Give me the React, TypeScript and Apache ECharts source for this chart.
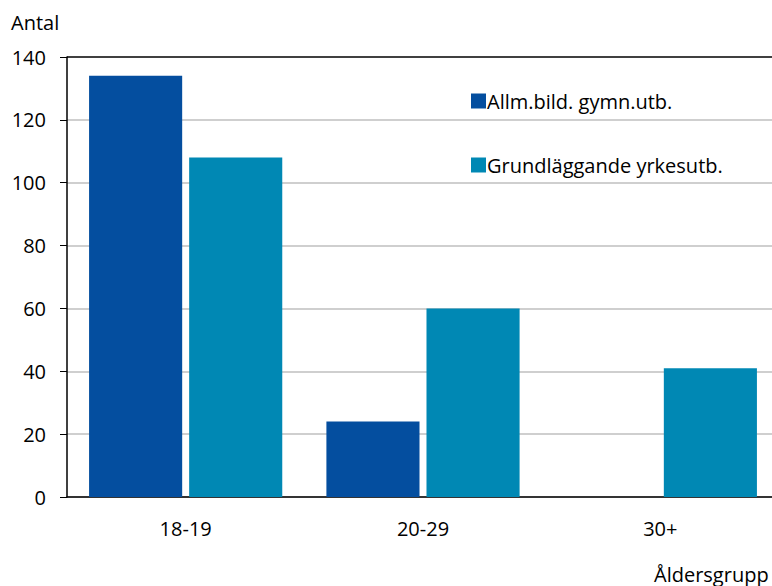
import React, { useEffect, useRef } from "react";
import * as echarts from "echarts";

const categories = ["18-19", "20-29", "30+"];
const seriesNames = ["Allm.bild. gymn.utb.", "Grundläggande yrkesutb."];
const allmValues: (number | null)[] = [134, 24, null];
const grundValues: (number | null)[] = [108, 60, 41];
const yTicks = { min: 0, max: 140, interval: 20 };
const colors = ["#044E9F", "#0088B4"];
const FONT = "Open Sans";
const FS = 20;

export default function App() {
  const ref = useRef<HTMLDivElement>(null);
  useEffect(() => {
    if (!ref.current) return;
    const chart = echarts.init(ref.current, undefined, { renderer: "svg" });
    chart.setOption({
      animation: false,
      color: colors,
      textStyle: { fontFamily: FONT, color: "#000" },
      grid: { left: 67, top: 57, bottom: 89, right: 11, containLabel: false },
      legend: {
        orient: "vertical",
        left: 466,
        top: 86,
        itemWidth: 15,
        itemHeight: 15,
        itemGap: 44,
        icon: "rect",
        textStyle: { fontFamily: FONT, fontSize: FS, color: "#000", padding: [0, 0, 0, -4] },
        data: seriesNames,
      },
      graphic: [
        { type: "text", left: 11, top: 12, style: { text: "Antal", fontFamily: FONT, fontSize: FS, fill: "#000" } },
        { type: "text", left: 654, top: 564, style: { text: "Åldersgrupp", fontFamily: FONT, fontSize: FS, fill: "#000" } },
      ],
      xAxis: {
        type: "category",
        data: categories,
        axisLine: { lineStyle: { color: "#000", width: 1.5 } },
        axisTick: { show: false },
        axisLabel: { fontFamily: FONT, fontSize: FS, color: "#000", margin: 21 },
      },
      yAxis: {
        type: "value",
        min: yTicks.min,
        max: yTicks.max,
        interval: yTicks.interval,
        axisLine: { show: true, lineStyle: { color: "#000", width: 1.5 } },
        axisTick: { show: true, length: 7, lineStyle: { color: "#000" } },
        axisLabel: { fontFamily: FONT, fontSize: FS, color: "#000", margin: 21 },
        splitLine: {
          lineStyle: {
            color: ["#bfbfbf", "#bfbfbf", "#bfbfbf", "#bfbfbf", "#bfbfbf", "#bfbfbf", "#bfbfbf", "#000"],
            width: 1.5,
          },
        },
      },
      series: [
        { name: seriesNames[0], type: "bar", data: allmValues, barGap: "7.5%", barCategoryGap: "18.6%" },
        { name: seriesNames[1], type: "bar", data: grundValues, barGap: "7.5%", barCategoryGap: "18.6%" },
      ],
    });
    return () => chart.dispose();
  }, []);
  return (
    <div style={{ width: 772, height: 586, position: "absolute", left: 0, top: 0, overflow: "hidden" }}>
      <div ref={ref} style={{ width: 790, height: 586 }} />
    </div>
  );
}
